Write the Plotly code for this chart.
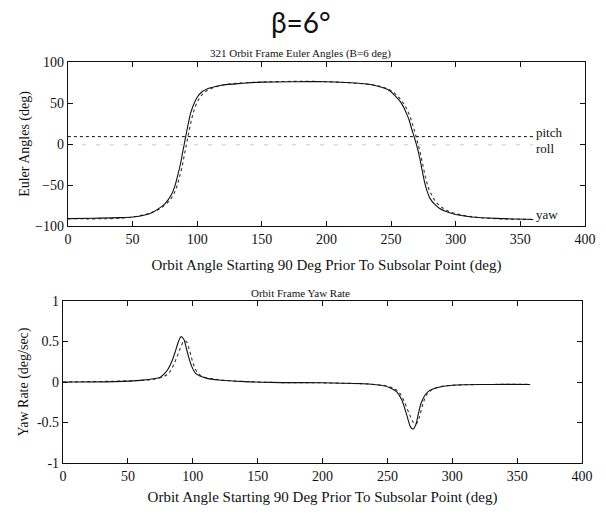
import plotly.graph_objects as go

# ---- data -----------------------------------------------------------------
orbit_angle_yaw = [0, 20, 40, 50, 57, 64, 70, 75, 80, 83, 85, 87, 89, 91, 93, 95, 97,
                   100, 104, 108, 115, 120, 135, 150, 180, 200, 215, 225, 236, 245,
                   249, 253, 257, 260, 262, 264, 266, 268, 270, 272, 274, 276, 278,
                   280, 284, 287, 292, 300, 312, 337, 360]
yaw = [-91, -90.5, -89.8, -89, -87.5, -84.5, -79, -73, -62, -50, -38, -25, -8, 8, 24,
       38, 47, 57, 64, 67.5, 70.5, 72, 74, 75.5, 76, 76, 75, 74, 72, 68,
       65, 59, 52, 44, 37, 29, 18, 8, -3, -16, -32, -47, -58,
       -66, -74, -78, -82, -86, -89, -91, -92]

orbit_angle_yaw_cmd = [0, 50, 70, 80, 84, 86, 88, 90, 92, 94, 96, 98, 101, 105, 110,
                       120, 150, 200, 236, 246, 252, 258, 262, 265, 267, 269, 271,
                       273, 275, 277, 279, 282, 286, 292, 300, 320, 360]
yaw_cmd = [-91, -89, -80, -66, -53, -42, -30, -14, 2, 18, 32, 43, 54, 62, 67,
           72, 75.5, 76, 72, 68, 63, 53, 43, 32, 22, 11, -1,
           -14, -29, -43, -54, -64, -73, -80, -85, -90, -92]

orbit_angle_att = [0, 90, 180, 270, 360]
pitch = [9, 9, 9, 9, 9]
roll = [-1, -1, -1, -1, -1]

orbit_angle_rate = [0, 40, 60, 70, 75, 78, 81, 84, 87, 89, 91, 93, 95, 97, 99, 102,
                    106, 111, 120, 140, 160, 200, 230, 245, 252, 257, 261, 264, 266,
                    268, 270, 272, 274, 276, 279, 283, 288, 300, 330, 360]
yaw_rate = [0, 0.005, 0.02, 0.04, 0.06, 0.1, 0.16, 0.26, 0.4, 0.5, 0.56, 0.53, 0.42,
            0.3, 0.2, 0.11, 0.07, 0.045, 0.025, 0.005, -0.005, -0.01, -0.02, -0.04,
            -0.07, -0.12, -0.22, -0.36, -0.47, -0.56, -0.58, -0.52, -0.38, -0.26,
            -0.16, -0.1, -0.07, -0.04, -0.03, -0.03]

orbit_angle_rate_cmd = [0, 60, 70, 78, 82, 85, 88, 91, 93, 95, 97, 99, 101, 104, 108,
                        115, 125, 160, 200, 240, 250, 256, 260, 264, 267, 270, 272,
                        274, 276, 278, 281, 285, 290, 300, 360]
yaw_rate_cmd = [0, 0.02, 0.035, 0.07, 0.12, 0.2, 0.32, 0.44, 0.5, 0.5, 0.42, 0.3,
                0.2, 0.11, 0.065, 0.04, 0.02, -0.005, -0.01, -0.03, -0.05, -0.09,
                -0.15, -0.28, -0.4, -0.5, -0.52, -0.46, -0.35, -0.24, -0.14, -0.09,
                -0.06, -0.04, -0.03]

x_ticks = [0, 50, 100, 150, 200, 250, 300, 350, 400]
euler_ticks = [-100, -50, 0, 50, 100]
rate_ticks = [-1, -0.5, 0, 0.5, 1]
rate_tick_labels = ["-1", "-0.5", "0", "0.5", "1"]

# ---- layout geometry ----------------------------------------------------------
W, H = 606, 517
ML, MR, MT, MB = 63, 10, 62, 54
PW, PH = W - ML - MR, H - MT - MB


def px_x(px):
    return (px - ML) / PW


def px_y(py):
    return (H - MB - py) / PH


SERIF = "Liberation Serif, Times New Roman, serif"
BLACK = "#111111"

fig = go.Figure()

line_solid = dict(color=BLACK, width=1.1)
line_dot = dict(color="#333333", width=1.1, dash="dot")

fig.add_trace(go.Scatter(x=orbit_angle_yaw_cmd, y=yaw_cmd, mode="lines",
                         line=line_dot, line_shape="spline", xaxis="x", yaxis="y"))
fig.add_trace(go.Scatter(x=orbit_angle_yaw, y=yaw, mode="lines",
                         line=line_solid, line_shape="spline", xaxis="x", yaxis="y"))
fig.add_trace(go.Scatter(x=orbit_angle_att, y=pitch, mode="lines",
                         line=dict(color=BLACK, width=1, dash="3px,3px"),
                         xaxis="x", yaxis="y"))
fig.add_trace(go.Scatter(x=orbit_angle_att, y=roll, mode="lines",
                         line=dict(color="#c8c8c8", width=1, dash="4px,10px"),
                         xaxis="x", yaxis="y"))

fig.add_trace(go.Scatter(x=orbit_angle_rate_cmd, y=yaw_rate_cmd, mode="lines",
                         line=line_dot, line_shape="spline", xaxis="x2", yaxis="y2"))
fig.add_trace(go.Scatter(x=orbit_angle_rate, y=yaw_rate, mode="lines",
                         line=line_solid, line_shape="spline", xaxis="x2", yaxis="y2"))

axis_common = dict(
    showgrid=False, zeroline=False, showline=True, linecolor=BLACK, linewidth=1.3,
    mirror="ticks", ticks="inside", ticklen=5, tickcolor=BLACK, tickwidth=1,
    tickfont=dict(family=SERIF, size=14, color=BLACK),
)

x_title = "Orbit Angle Starting 90 Deg Prior To Subsolar Point (deg)"
title_font = dict(family=SERIF, size=15, color=BLACK)

fig.update_layout(
    width=W, height=H, margin=dict(l=ML, r=MR, t=MT, b=MB),
    paper_bgcolor="white", plot_bgcolor="white", showlegend=False,
    xaxis=dict(axis_common, domain=[px_x(68), px_x(596)], range=[0, 400],
               tickvals=x_ticks, anchor="y",
               title=dict(text=x_title, font=title_font, standoff=13)),
    yaxis=dict(axis_common, domain=[px_y(226), 1], range=[-100, 100],
               tickvals=euler_ticks, anchor="x",
               title=dict(text="Euler Angles (deg)", font=dict(title_font, size=14),
                          standoff=2)),
    xaxis2=dict(axis_common, domain=[0, px_x(593)], range=[0, 400],
                tickvals=x_ticks, anchor="y2",
                title=dict(text=x_title, font=title_font, standoff=8)),
    yaxis2=dict(axis_common, domain=[0, px_y(301)], range=[-1, 1],
                tickvals=rate_ticks, ticktext=rate_tick_labels, anchor="x2",
                title=dict(text="Yaw Rate (deg/sec)", font=dict(title_font, size=14),
                           standoff=4)),
)

annotations = [
    dict(text="β=6°", x=px_x(306), y=px_y(22), xref="paper", yref="paper",
         showarrow=False, font=dict(family="Lato, DejaVu Sans, sans-serif", size=28,
                                    color=BLACK), yanchor="middle"),
    dict(text="321 Orbit Frame Euler Angles (B=6 deg)", x=px_x(306), y=px_y(54),
         xref="paper", yref="paper", showarrow=False, yanchor="middle",
         font=dict(family=SERIF, size=11, color=BLACK)),
    dict(text="Orbit Frame Yaw Rate", x=px_x(306), y=px_y(293),
         xref="paper", yref="paper", showarrow=False, yanchor="middle",
         font=dict(family=SERIF, size=11, color=BLACK)),
    dict(text="pitch", x=orbit_angle_att[-1], y=pitch[-1] + 5, xref="x", yref="y",
         showarrow=False, xanchor="left", yanchor="middle", xshift=1,
         font=dict(family=SERIF, size=13, color=BLACK)),
    dict(text="roll", x=orbit_angle_att[-1], y=roll[-1] - 4, xref="x", yref="y",
         showarrow=False, xanchor="left", yanchor="middle", xshift=1,
         font=dict(family=SERIF, size=13, color=BLACK)),
    dict(text="yaw", x=orbit_angle_yaw[-1], y=yaw[-1] + 6, xref="x", yref="y",
         showarrow=False, xanchor="left", yanchor="middle", xshift=1,
         font=dict(family=SERIF, size=13, color=BLACK)),
]
fig.update_layout(annotations=annotations)

fig.write_html("out.html")
